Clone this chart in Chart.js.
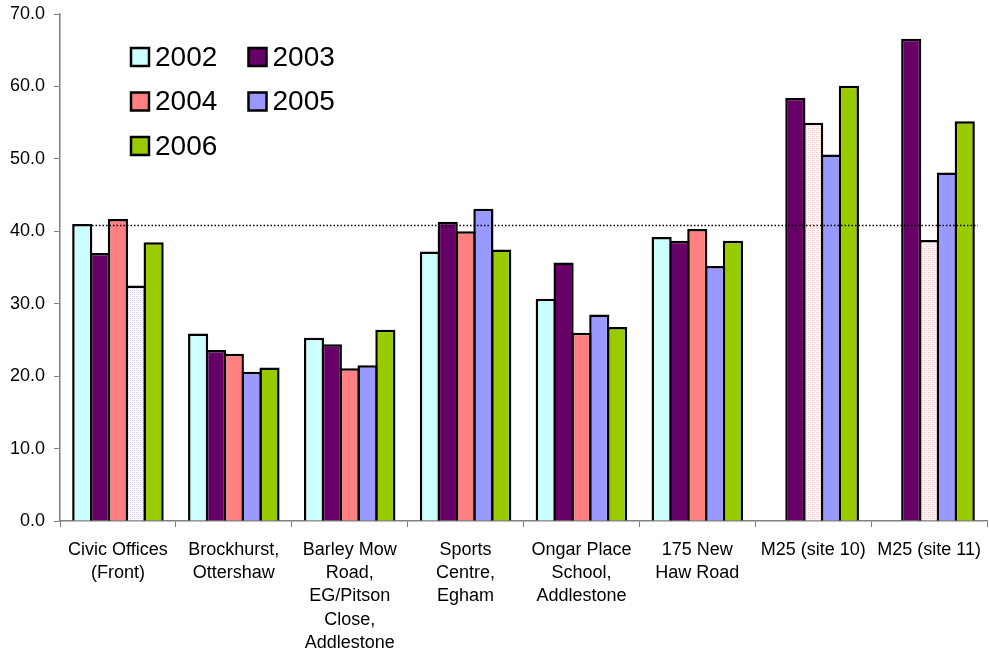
<!DOCTYPE html>
<html>
<head>
<meta charset="utf-8">
<title>Annual mean NO2 by site</title>
<script src="https://cdn.jsdelivr.net/npm/chart.js@4/dist/chart.umd.min.js"></script>
<style>
  html, body { margin: 0; padding: 0; background: #fff; }
  #wrap { width: 989px; height: 658px; position: relative; }
</style>
</head>
<body>
<div id="wrap"><canvas id="chart" width="989" height="658"></canvas></div>
<script>
// Monitoring sites (multi-line axis labels)
const sites = [
  ['Civic Offices', '(Front)'],
  ['Brockhurst,', 'Ottershaw'],
  ['Barley Mow', 'Road,', 'EG/Pitson', 'Close,', 'Addlestone'],
  ['Sports', 'Centre,', 'Egham'],
  ['Ongar Place', 'School,', 'Addlestone'],
  ['175 New', 'Haw Road'],
  'M25 (site 10)',
  'M25 (site 11)'
];

const years = ['2002', '2003', '2004', '2005', '2006'];
const yearColors = ['#CCFFFF', '#660066', '#FF8080', '#9999FF', '#99CC00'];

const values2002 = [41.0, 25.9, 25.3, 37.2, 30.7, 39.2, null, null];
const values2003 = [37.0, 23.6, 24.4, 41.3, 35.7, 38.7, 58.4, 66.6];
const values2004 = [41.7, 23.1, 21.1, 40.0, 26.0, 40.3, 55.0, 38.8];
const values2005 = [32.5, 20.6, 21.5, 43.1, 28.5, 35.2, 50.6, 48.1];
const values2006 = [38.5, 21.2, 26.4, 37.5, 26.8, 38.7, 60.1, 55.2];

// [site index, year index] of results shown with a hatched fill
const hatchedBars = [[0, 3], [6, 2], [7, 2]];

// dotted reference level
const referenceLevel = 40.8;

const yTicks = [0, 10, 20, 30, 40, 50, 60, 70];

const allValues = [values2002, values2003, values2004, values2005, values2006];

function makeDots(color) {
  const c = document.createElement('canvas');
  c.width = 4;
  c.height = 4;
  const g = c.getContext('2d');
  g.fillStyle = '#ffffff';
  g.fillRect(0, 0, 4, 4);
  g.fillStyle = color;
  g.globalAlpha = 0.55;
  g.fillRect(0, 0, 1, 1);
  g.fillRect(2, 2, 1, 1);
  g.globalAlpha = 0.25;
  g.fillRect(2, 0, 1, 1);
  g.fillRect(0, 2, 1, 1);
  return g.createPattern(c, 'repeat');
}

// bars widened slightly so neighbouring outlines overlap into one line
const datasets = years.map((year, yi) => {
  const dots = makeDots(yearColors[yi]);
  return {
    label: year,
    data: allValues[yi],
    backgroundColor: ctx => {
      const hatched = hatchedBars.some(h => h[0] === ctx.dataIndex && h[1] === yi);
      return hatched ? dots : yearColors[yi];
    },
    borderColor: '#000000',
    borderWidth: 2.5,
    borderSkipped: 'bottom',
    categoryPercentage: 0.77,
    barPercentage: 1.13
  };
});

// Dotted horizontal reference line across the plot
const referenceLine = {
  id: 'referenceLine',
  afterDatasetsDraw(chart) {
    const { ctx, chartArea, scales } = chart;
    const catWidth = (chartArea.right - chartArea.left) / sites.length;
    const y = Math.round(scales.y.getPixelForValue(referenceLevel)) + 0.5;
    ctx.save();
    ctx.strokeStyle = '#000000';
    ctx.lineWidth = 1.5;
    ctx.setLineDash([1.5, 2]);
    ctx.beginPath();
    ctx.moveTo(chartArea.left + catWidth * 0.276, y);
    ctx.lineTo(chartArea.right - catWidth * 0.078, y);
    ctx.stroke();
    ctx.restore();
  }
};

// Two-column legend inside the top-left of the plot
const boxLegend = {
  id: 'boxLegend',
  afterDraw(chart) {
    const { ctx, chartArea } = chart;
    const x0 = chartArea.left + 71;
    const colGap = 117.5;
    const y0 = chartArea.top + 43;
    const rowGap = 44.5;
    const box = 18;
    ctx.save();
    ctx.font = '28px "Liberation Sans", Arial, sans-serif';
    ctx.textBaseline = 'middle';
    ctx.textAlign = 'left';
    chart.data.datasets.forEach((ds, i) => {
      const col = i % 2;
      const row = Math.floor(i / 2);
      const bx = x0 + col * colGap;
      const cy = y0 + row * rowGap;
      ctx.fillStyle = yearColors[i];
      ctx.fillRect(bx, cy - box / 2, box, box);
      ctx.lineWidth = 2.5;
      ctx.strokeStyle = '#000000';
      ctx.strokeRect(bx, cy - box / 2, box, box);
      ctx.fillStyle = '#000000';
      ctx.fillText(ds.label, bx + 24, cy + 1);
    });
    ctx.restore();
  }
};

new Chart(document.getElementById('chart').getContext('2d'), {
  type: 'bar',
  data: {
    labels: sites,
    datasets: datasets
  },
  options: {
    responsive: false,
    animation: false,
    layout: {
      padding: { top: 14, right: 2, bottom: 0, left: 0 }
    },
    plugins: {
      legend: { display: false },
      tooltip: { enabled: false }
    },
    scales: {
      x: {
        afterFit: scale => {
          scale.height = 137;
          scale.paddingLeft = 0;
          scale.paddingRight = 0;
        },
        grid: {
          display: true,
          drawOnChartArea: false,
          offset: true,
          tickLength: 6,
          color: '#808080'
        },
        border: { color: '#808080', width: 1.5 },
        ticks: {
          color: '#000000',
          maxRotation: 0,
          autoSkip: false,
          padding: 11,
          font: { family: '"Liberation Sans", Arial, sans-serif', size: 18, lineHeight: 1.3 }
        }
      },
      y: {
        min: 0,
        max: 70,
        afterFit: scale => {
          scale.width = 60;
          scale.paddingTop = 0;
          scale.paddingBottom = 0;
        },
        afterBuildTicks: scale => {
          scale.ticks = yTicks.map(v => ({ value: v }));
        },
        grid: {
          display: true,
          drawOnChartArea: false,
          tickLength: 6,
          color: '#808080'
        },
        border: { color: '#808080', width: 1.5 },
        ticks: {
          color: '#000000',
          padding: 9,
          font: { family: '"Liberation Sans", Arial, sans-serif', size: 18 },
          callback: value => value.toFixed(1)
        }
      }
    }
  },
  plugins: [referenceLine, boxLegend]
});
</script>
</body>
</html>
